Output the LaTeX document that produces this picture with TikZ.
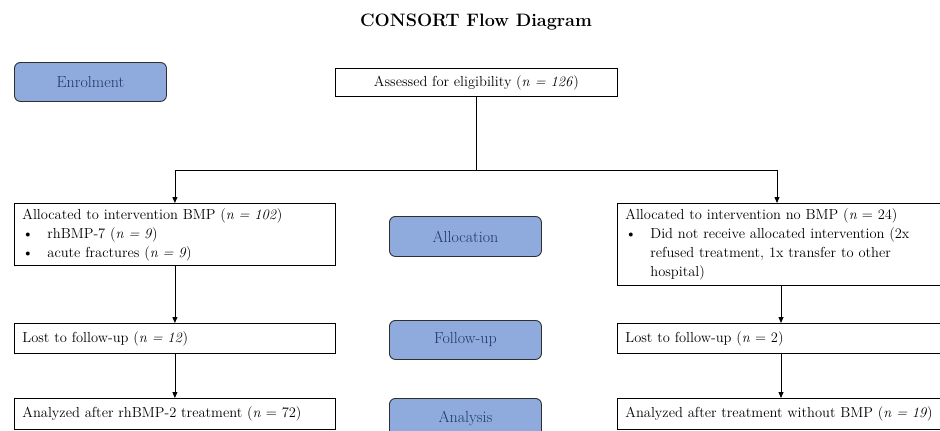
\documentclass[tikz,border=0pt]{standalone}
\usetikzlibrary{arrows.meta}
\definecolor{phaseblue}{HTML}{8FAADC}
\definecolor{phasetext}{HTML}{1F3864}
\definecolor{phaseline}{HTML}{2F2F2F}
\newcommand{\bulitem}[1]{\makebox[25pt][l]{\textbullet}#1}
\newcommand{\bulcont}[1]{\hspace*{25pt}#1}
\begin{document}
\begin{tikzpicture}[x=1pt,y=-1pt,
  font=\fontsize{14.5}{19}\selectfont,
  flowbox/.style={draw, line width=0.8pt, rectangle, anchor=north west, inner xsep=8pt, inner ysep=0pt, align=left},
  phasebox/.style={draw=phaseline, fill=phaseblue, text=phasetext, line width=0.9pt, rounded corners=6pt, anchor=north west, inner sep=0pt, minimum width=152pt, align=center, font=\fontsize{16}{19}\selectfont},
  arr/.style={line width=0.8pt, -{Triangle[length=6pt,width=5pt]}},
  plain/.style={line width=0.8pt}]
\useasboundingbox (0,0) rectangle (940,431);
\clip (0,0) rectangle (940,431);
\node[font=\fontsize{18}{21}\selectfont\bfseries] (title) at (476,22) {CONSORT Flow Diagram};
% phase boxes
\node[phasebox, minimum height=39pt] (enrol) at (14,62) {Enrolment};
\node[phasebox, minimum height=40pt] (allocp) at (389,216) {Allocation};
\node[phasebox, minimum height=39pt] (followp) at (389,320) {Follow-up};
\node[phasebox, minimum height=40pt] (analysisp) at (389,398) {Analysis};
% flow boxes
\node[flowbox, minimum width=282pt, minimum height=28pt, align=center] (assess) at (335,68) {Assessed for eligibility (\textit{n = 126})};
\node[flowbox, minimum width=321pt, minimum height=62pt, text width=305pt] (allocL) at (14,203) {Allocated to intervention BMP (\textit{n = 102})\\
\bulitem{rhBMP-7 (\textit{n = 9})}\\
\bulitem{acute fractures (\textit{n = 9})}};
\node[flowbox, minimum width=340pt, minimum height=82pt, text width=324pt] (allocR) at (617,203) {Allocated to intervention no BMP (\textit{n} = 24)\\
\bulitem{Did not receive allocated intervention (2x}\\
\bulcont{refused treatment, 1x transfer to other}\\
\bulcont{hospital)}};
\node[flowbox, minimum width=321pt, minimum height=30pt, text width=305pt] (lostL) at (14,323) {Lost to follow-up (\textit{n = 12})};
\node[flowbox, minimum width=340pt, minimum height=30pt, text width=324pt] (lostR) at (617,323) {Lost to follow-up (\textit{n} = 2)};
\node[flowbox, minimum width=321pt, minimum height=31pt, text width=305pt] (anaL) at (14,398) {Analyzed after rhBMP-2 treatment (\textit{n} = 72)};
\node[flowbox, minimum width=340pt, minimum height=31pt, text width=324pt] (anaR) at (617,398) {Analyzed after treatment without BMP (\textit{n = 19})};
% connectors
\draw[plain] (assess.south) -- ++(0,74) coordinate (split);
\draw[arr] (split) -| (allocL.north);
\draw[arr] (split) -| ([xshift=160pt]allocR.north west);
\draw[arr] (allocL.south) -- (lostL.north);
\draw[arr] ([xshift=164pt]allocR.south west) -- ([xshift=164pt]lostR.north west);
\draw[arr] (lostL.south) -- (anaL.north);
\draw[arr] ([xshift=164pt]lostR.south west) -- ([xshift=164pt]anaR.north west);
\end{tikzpicture}
\end{document}
